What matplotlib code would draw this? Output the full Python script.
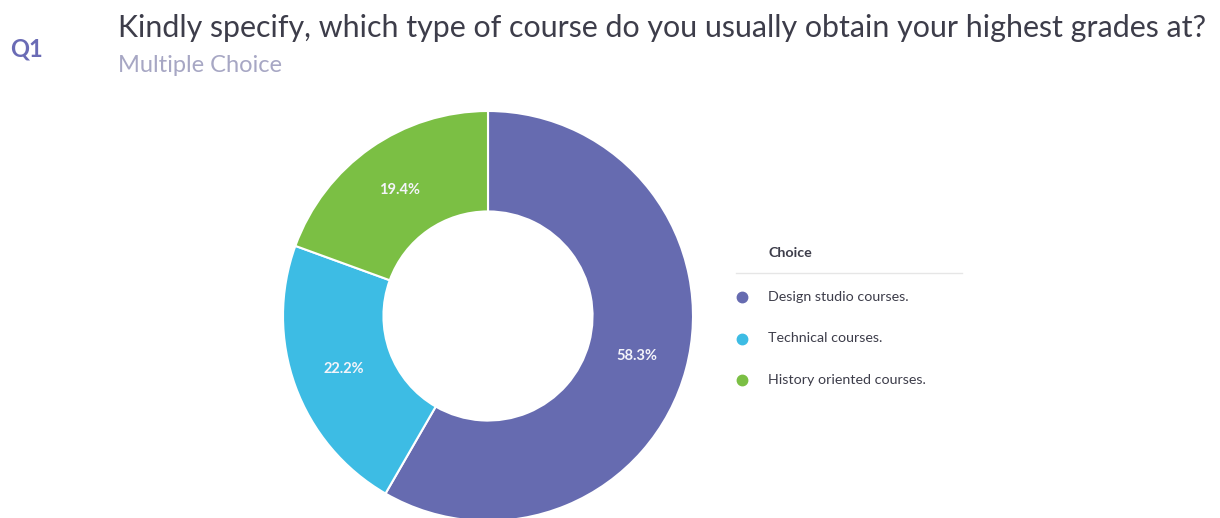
import matplotlib.pyplot as plt
from matplotlib.lines import Line2D

plt.rcParams['font.family'] = ['Lato', 'DejaVu Sans']

choices = ['Design studio courses.', 'Technical courses.', 'History oriented courses.']
counts = [21, 8, 7]
colors = ['#666bb0', '#3dbce4', '#7bbf44']

W, H = 1220, 518
fig = plt.figure(figsize=(W / 100, H / 100), dpi=100)
fig.patch.set_facecolor('white')

# donut, centre (488, 316) px, outer radius 205 px
cx, cy, r = 488, 316, 205
ax = fig.add_axes([(cx - r) / W, (H - cy - r) / H, 2 * r / W, 2 * r / H])
ax.pie(counts, colors=colors, startangle=90, counterclock=False, radius=1,
       autopct='%.1f%%', pctdistance=0.75,
       wedgeprops=dict(width=0.49, edgecolor='white', linewidth=1.5),
       textprops=dict(color='#f4f4fa', fontsize=10.5, fontweight='bold'))
ax.set_xlim(-1, 1)
ax.set_ylim(-1, 1)
ax.axis('off')

# header
fig.text(10 / W, 1 - 49 / H, 'Q1', color='#6a6bb5', fontsize=17, fontweight='bold', va='center')
fig.text(118 / W, 1 - 28 / H, 'Kindly specify, which type of course do you usually obtain your highest grades at?',
         color='#3d3d4a', fontsize=21.9, va='center')
fig.text(118 / W, 1 - 66 / H, 'Multiple Choice', color='#a7a7c4', fontsize=17, va='center')

# legend
fig.text(768 / W, 1 - 253 / H, 'Choice', color='#3d3d4a', fontsize=10.3, fontweight='bold', va='center')
fig.add_artist(Line2D([736 / W, 962 / W], [1 - 273 / H, 1 - 273 / H], color='#e6e6e6', lw=1))
for i, (name, c) in enumerate(zip(choices, colors)):
    y = 1 - (297 + 41.5 * i) / H
    fig.add_artist(Line2D([742 / W], [y], marker='o', markersize=7.5, color=c, lw=0))
    fig.text(768 / W, y, name, color='#3d3d4a', fontsize=10.3, va='center')

fig.savefig('out.png', dpi=100)
